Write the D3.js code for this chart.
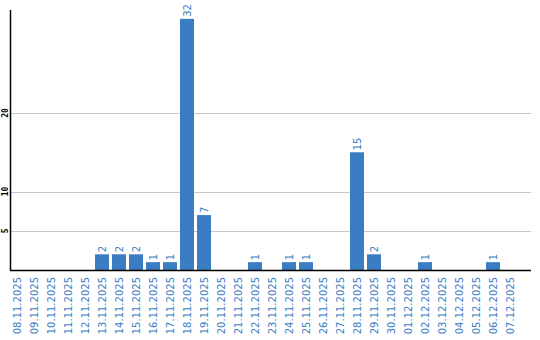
<!DOCTYPE html>
<html>
<head>
<meta charset="utf-8">
<script src="https://cdn.jsdelivr.net/npm/d3@7"></script>
<style>
  body { margin: 0; background: #fff; }
  svg { display: block; }
</style>
</head>
<body>
<svg id="chart" width="540" height="340"></svg>
<script>
var dates = ["08.11.2025","09.11.2025","10.11.2025","11.11.2025","12.11.2025","13.11.2025",
  "14.11.2025","15.11.2025","16.11.2025","17.11.2025","18.11.2025","19.11.2025","20.11.2025",
  "21.11.2025","22.11.2025","23.11.2025","24.11.2025","25.11.2025","26.11.2025","27.11.2025",
  "28.11.2025","29.11.2025","30.11.2025","01.12.2025","02.12.2025","03.12.2025","04.12.2025",
  "05.12.2025","06.12.2025","07.12.2025"];
var counts = [0,0,0,0,0,2,2,2,1,1,32,7,0,0,1,0,1,1,0,0,15,2,0,0,1,0,0,0,1,0];
var yTicks = [5, 10, 20];

var barColor = "#3a7dc3";
var svg = d3.select("#chart");

var data = dates.map(function(d, i) { return {key: d, value: counts[i]}; });

var x = d3.scaleBand()
  .domain(dates)
  .range([10, 517])
  .paddingInner(3/17)
  .paddingOuter(0);

var y = d3.scaleLinear()
  .domain([0, 33])
  .range([270, 11]);

// gridlines
svg.selectAll(".grid")
  .data(yTicks)
  .enter()
  .append("line")
    .attr("class", "grid")
    .attr("x1", 11)
    .attr("x2", 531)
    .attr("y1", function(d) {return Math.round(y(d)) + 0.5;})
    .attr("y2", function(d) {return Math.round(y(d)) + 0.5;})
    .style("stroke", "#c8c8c8")
    .style("stroke-width", 1);

// y tick labels (rotated)
svg.selectAll(".ytick")
  .data(yTicks)
  .enter()
  .append("text")
    .attr("class", "ytick")
    .text(function(d) {return d;})
    .attr("transform", function(d) {return "translate(5," + y(d) + ") rotate(-90)";})
    .attr("dy", "0.35em")
    .style("text-anchor", "middle")
    .style("font-family", "DejaVu Sans Mono")
    .style("font-weight", "bold")
    .style("font-size", "8px")
    .style("fill", "#000");

// bars
svg.selectAll(".bar")
  .data(data.filter(function(d) {return d.value > 0;}))
  .enter()
  .append("rect")
    .attr("class", "bar")
    .attr("x", function(d) {return x(d.key);})
    .attr("y", function(d) {return y(d.value);})
    .attr("width", x.bandwidth())
    .attr("height", function(d) {return y(0) - y(d.value);})
    .attr("fill", barColor);

// value labels above bars
svg.selectAll(".total_text")
  .data(data.filter(function(d) {return d.value > 0;}))
  .enter()
  .append("text")
    .attr("class", "total_text")
    .text(function(d) {return d.value;})
    .attr("transform", function(d) {
      return "translate(" + (x(d.key) + x.bandwidth()/2) + "," + (y(d.value) - 2) + ") rotate(-90)";
    })
    .attr("dy", "0.35em")
    .style("text-anchor", "start")
    .style("font-family", "DejaVu Sans")
    .style("font-size", "10px")
    .style("fill", barColor);

// x labels
svg.selectAll(".xlabel")
  .data(dates)
  .enter()
  .append("text")
    .attr("class", "xlabel")
    .text(function(d) {return d;})
    .attr("transform", function(d) {
      return "translate(" + (x(d) + x.bandwidth()/2) + ",277) rotate(-90)";
    })
    .attr("dy", "0.35em")
    .style("text-anchor", "end")
    .style("font-family", "DejaVu Sans")
    .style("font-size", "10px")
    .style("fill", barColor);

// axes lines
svg.append("line")
  .attr("x1", 10.5).attr("x2", 10.5)
  .attr("y1", 10).attr("y2", 271)
  .style("stroke", "#000")
  .style("stroke-width", 1.5);
svg.append("line")
  .attr("x1", 10).attr("x2", 531)
  .attr("y1", 270.5).attr("y2", 270.5)
  .style("stroke", "#000")
  .style("stroke-width", 1.5);
</script>
</body>
</html>
